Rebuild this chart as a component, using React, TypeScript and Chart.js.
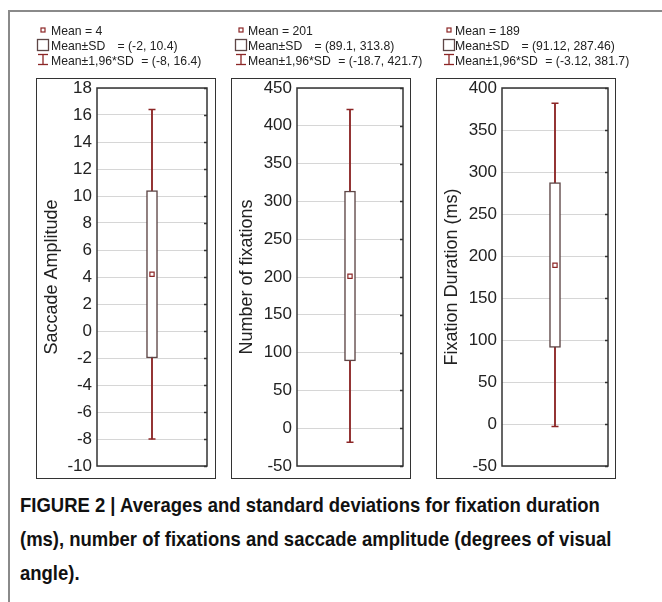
import React, { useEffect, useRef } from "react";
import { Chart, registerables } from "chart.js";

Chart.register(...registerables);

// ---- data ----
const panelTitles = ["Saccade Amplitude", "Number of fixations", "Fixation Duration (ms)"];
const meanValues = [4.2, 201, 189];
const meanLabels = ["4", "201", "189"];
const sdLow = [-2, 89.1, 91.12];
const sdHigh = [10.4, 313.8, 287.46];
const sdLabels = ["(-2, 10.4)", "(89.1, 313.8)", "(91.12, 287.46)"];
const ciLow = [-8, -18.7, -3.12];
const ciHigh = [16.4, 421.7, 381.7];
const ciLabels = ["(-8, 16.4)", "(-18.7, 421.7)", "(-3.12, 381.7)"];
const axisMin = [-10, -50, -50];
const axisMax = [18, 450, 400];
const axisStep = [2, 50, 50];

const captionLines = [
  "FIGURE 2 | Averages and standard deviations for fixation duration",
  "(ms), number of fixations and saccade amplitude (degrees of visual",
  "angle).",
];

// ---- layout ----
const FONT = '"Liberation Sans", Arial, Helvetica, sans-serif';
const OUTER_LEFT = [36, 231, 436];
const OUTER_RIGHT = [216, 411, 616];
const PLOT_LEFT = [97, 297, 502];
const PLOT_RIGHT = [207, 403, 608];
const OUTER_TOP = 78;
const OUTER_BOTTOM = 479;
const PLOT_TOP = 88;
const PLOT_BOTTOM = 466;
const CANVAS_TOP = 66;
const CANVAS_BOTTOM = 490;
const LEGEND_ICON_X = [43, 241, 449];
const LEGEND_TEXT_X = [51, 248, 455];

const WHISKER = "#8c2626";
const BOXLINE = "#5e4646";

const framePlugin = {
  id: "plotFrame",
  afterDraw(chart: any) {
    const { ctx, chartArea } = chart;
    const { left, top, right, bottom } = chartArea;
    const ys = chart.scales.y;
    ctx.save();
    ctx.strokeStyle = "#333";
    ctx.lineWidth = 1.5;
    ys.ticks.forEach((t: any) => {
      const y = Math.round(ys.getPixelForValue(t.value)) + 0.5;
      ctx.beginPath();
      ctx.moveTo(right - 3, y);
      ctx.lineTo(right, y);
      ctx.stroke();
    });
    ctx.strokeRect(left, top, right - left, bottom - top);
    ctx.restore();
  },
};

function Panel({ i }: { i: number }) {
  const ref = useRef<HTMLCanvasElement>(null);
  const cLeft = OUTER_LEFT[i] + 1;
  const w = OUTER_RIGHT[i] - OUTER_LEFT[i] - 2;
  const cTop = CANVAS_TOP;
  const h = CANVAS_BOTTOM - CANVAS_TOP;

  useEffect(() => {
    const yAxisWidth = PLOT_LEFT[i] - cLeft;
    const chart = new Chart(ref.current as HTMLCanvasElement, {
      type: "bar",
      data: {
        labels: [""],
        datasets: [
          {
            type: "line",
            data: [meanValues[i]],
            showLine: false,
            pointStyle: "rect",
            pointRadius: 3,
            pointBorderWidth: 1.2,
            pointBorderColor: WHISKER,
            pointBackgroundColor: "#fff",
            order: 0,
          } as any,
          {
            type: "line",
            data: [ciHigh[i]],
            showLine: false,
            pointStyle: "line",
            pointRadius: 3.5,
            pointBorderWidth: 1.5,
            pointBorderColor: WHISKER,
            order: 1,
          } as any,
          {
            type: "line",
            data: [ciLow[i]],
            showLine: false,
            pointStyle: "line",
            pointRadius: 3.5,
            pointBorderWidth: 1.5,
            pointBorderColor: WHISKER,
            order: 1,
          } as any,
          {
            type: "bar",
            data: [[sdLow[i], sdHigh[i]]],
            backgroundColor: "#fff",
            borderColor: BOXLINE,
            borderWidth: 1.5,
            borderSkipped: false,
            barThickness: 11,
            grouped: false,
            order: 2,
          } as any,
          {
            type: "bar",
            data: [[ciLow[i], ciHigh[i]]],
            backgroundColor: WHISKER,
            borderWidth: 0,
            barThickness: 1.2,
            grouped: false,
            order: 3,
          } as any,
        ],
      },
      options: {
        animation: false,
        responsive: false,
        devicePixelRatio: 1,
        layout: {
          padding: {
            left: 0,
            top: PLOT_TOP - cTop,
            right: cLeft + w - PLOT_RIGHT[i],
            bottom: cTop + h - PLOT_BOTTOM,
          },
        },
        plugins: { legend: { display: false }, tooltip: { enabled: false } },
        scales: {
          x: { display: false },
          y: {
            type: "linear",
            min: axisMin[i],
            max: axisMax[i],
            ticks: {
              stepSize: axisStep[i],
              font: { family: FONT, size: 17 },
              color: "#222",
              padding: 5,
            },
            grid: { color: "#d6d6d6", drawTicks: false, lineWidth: 1 },
            border: { display: false },
            title: {
              display: true,
              text: panelTitles[i],
              font: { family: FONT, size: 18 },
              color: "#222",
              padding: { top: 4, bottom: 0 },
            },
            afterFit(scale: any) {
              scale.width = yAxisWidth;
            },
          },
        },
      } as any,
      plugins: [framePlugin],
    });
    return () => chart.destroy();
  }, [i]);

  const legendStyle: React.CSSProperties = {
    position: "absolute",
    left: LEGEND_TEXT_X[i],
    fontFamily: FONT,
    fontSize: 13,
    color: "#222",
    whiteSpace: "pre",
    lineHeight: "15px",
    transform: "scaleX(0.94)",
    transformOrigin: "left center",
  };
  const ix = LEGEND_ICON_X[i];

  return (
    <>
      <div
        style={{
          position: "absolute",
          left: OUTER_LEFT[i],
          top: OUTER_TOP,
          width: OUTER_RIGHT[i] - OUTER_LEFT[i],
          height: OUTER_BOTTOM - OUTER_TOP,
          boxSizing: "border-box",
          border: "1.5px solid #333",
        }}
      />
      <canvas
        ref={ref}
        width={w}
        height={h}
        style={{ position: "absolute", left: cLeft, top: cTop, width: w, height: h }}
      />
      <svg
        style={{ position: "absolute", left: ix - 7, top: 24, overflow: "visible" }}
        width={14}
        height={44}
      >
        <rect x={5} y={4} width={4} height={4} fill="#fff" stroke={WHISKER} strokeWidth={1.2} />
        <rect x={1.5} y={15.5} width={11} height={11} fill="#fff" stroke={BOXLINE} strokeWidth={1.3} />
        <line x1={7} y1={30} x2={7} y2={41} stroke={WHISKER} strokeWidth={1.3} />
        <line x1={2} y1={30.5} x2={12} y2={30.5} stroke={WHISKER} strokeWidth={1.3} />
        <line x1={2} y1={40.5} x2={12} y2={40.5} stroke={WHISKER} strokeWidth={1.3} />
      </svg>
      <div style={{ ...legendStyle, top: 23 }}>{`Mean = ${meanLabels[i]}`}</div>
      <div style={{ ...legendStyle, top: 38 }}>
        <span>Mean±SD</span>
        <span style={{ marginLeft: 13 }}>{`= ${sdLabels[i]}`}</span>
      </div>
      <div style={{ ...legendStyle, top: 53 }}>
        <span>Mean±1,96*SD</span>
        <span style={{ marginLeft: 8 }}>{`= ${ciLabels[i]}`}</span>
      </div>
    </>
  );
}

export default function App() {
  return (
    <div
      style={{
        position: "absolute",
        left: 0,
        top: 0,
        width: 662,
        height: 602,
        background: "#fff",
        overflow: "hidden",
        fontFamily: FONT,
      }}
    >
      <div style={{ position: "absolute", left: 9, top: 10, width: 653, height: 2, background: "#8a8a8a" }} />
      <div style={{ position: "absolute", left: 8, top: 10, width: 2, height: 592, background: "#8a8a8a" }} />
      {[0, 1, 2].map((i) => (
        <Panel key={i} i={i} />
      ))}
      {captionLines.map((line, k) => (
        <div
          key={k}
          style={{
            position: "absolute",
            left: 20,
            top: 491 + k * 34,
            fontFamily: FONT,
            fontWeight: "bold",
            fontSize: 21,
            lineHeight: "28px",
            color: "#111",
            whiteSpace: "pre",
            transform: "scaleX(0.88)",
            transformOrigin: "left center",
          }}
        >
          {line}
        </div>
      ))}
    </div>
  );
}
